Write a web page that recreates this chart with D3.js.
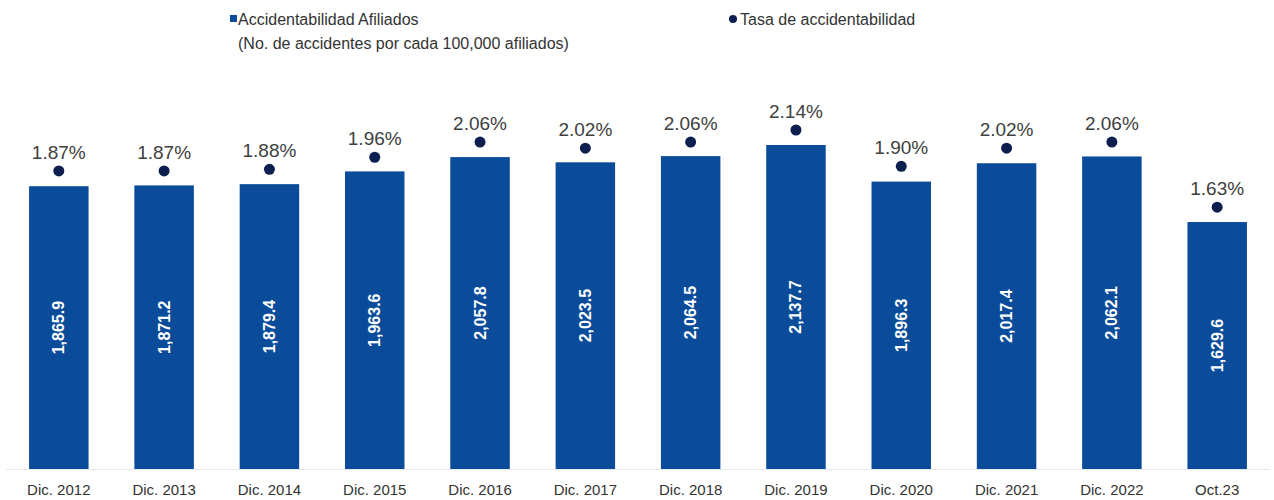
<!DOCTYPE html>
<html><head><meta charset="utf-8">
<script src="https://cdn.jsdelivr.net/npm/d3@7"></script>
<style>body{margin:0;background:#fff}svg{display:block;font-family:"Liberation Sans",Arial,sans-serif}</style>
</head><body><svg id="c" width="1274" height="500"></svg>
<script>
const categories = ["Dic. 2012","Dic. 2013","Dic. 2014","Dic. 2015","Dic. 2016","Dic. 2017","Dic. 2018","Dic. 2019","Dic. 2020","Dic. 2021","Dic. 2022","Oct.23"];
const accidentabilidad = [1865.9,1871.2,1879.4,1963.6,2057.8,2023.5,2064.5,2137.7,1896.3,2017.4,2062.1,1629.6];
const tasa = [1.87,1.87,1.88,1.96,2.06,2.02,2.06,2.14,1.90,2.02,2.06,1.63];

const svg = d3.select("#c");
const barColor = "#0a4c9a", dotColor = "#0d1f4f";
const x = d3.scaleBand().domain(categories).range([8, 1268]).paddingInner(0.435).paddingOuter(0.2);
const y = d3.scaleLinear().domain([0, 2137.7]).range([469, 145]);
const y2 = d3.scaleLinear().domain([0, 2.14]).range([454, 130]);
const fmt = d3.format(",.1f");

svg.append("line").attr("x1",6).attr("x2",1270).attr("y1",469.5).attr("y2",469.5).attr("stroke","#e8e8e8");

svg.selectAll("rect.bar").data(accidentabilidad).join("rect").attr("class","bar")
  .attr("x",(d,i)=>x(categories[i])).attr("width",x.bandwidth())
  .attr("y",d=>y(d)).attr("height",d=>y(0)-y(d)).attr("fill",barColor);

svg.selectAll("text.val").data(accidentabilidad).join("text").attr("class","val")
  .attr("transform",(d,i)=>`translate(${x(categories[i])+x.bandwidth()/2+5.5},${(y(d)+y(0))/2}) rotate(-90)`)
  .attr("text-anchor","middle").attr("fill","#fff").attr("font-size",16).attr("font-weight","bold")
  .text(d=>fmt(d));

svg.selectAll("circle.dot").data(tasa).join("circle").attr("class","dot")
  .attr("cx",(d,i)=>x(categories[i])+x.bandwidth()/2).attr("cy",d=>y2(d)).attr("r",5.5).attr("fill",dotColor);

svg.selectAll("text.pct").data(tasa).join("text").attr("class","pct")
  .attr("x",(d,i)=>x(categories[i])+x.bandwidth()/2).attr("y",d=>y2(d)-12)
  .attr("text-anchor","middle").attr("fill","#404040").attr("font-size",19)
  .text(d=>d.toFixed(2)+"%");

svg.append("g").attr("transform","translate(0,470)")
  .call(d3.axisBottom(x).tickSize(0).tickPadding(14))
  .call(g=>g.select(".domain").remove())
  .call(g=>g.selectAll("text").attr("font-size",15).attr("fill","#333").attr("font-family","Liberation Sans, Arial, sans-serif"));

const lg = svg.append("g");
lg.append("rect").attr("x",230).attr("y",15).attr("width",7).attr("height",7).attr("fill",barColor);
lg.append("text").attr("x",238).attr("y",25).attr("font-size",16).attr("fill","#333").text("Accidentabilidad Afiliados");
lg.append("text").attr("x",238).attr("y",49).attr("font-size",16).attr("fill","#333").text("(No. de accidentes por cada 100,000 afiliados)");
lg.append("circle").attr("cx",733).attr("cy",19).attr("r",4).attr("fill",dotColor);
lg.append("text").attr("x",740).attr("y",25).attr("font-size",16).attr("fill","#333").text("Tasa de accidentabilidad");
</script></body></html>
